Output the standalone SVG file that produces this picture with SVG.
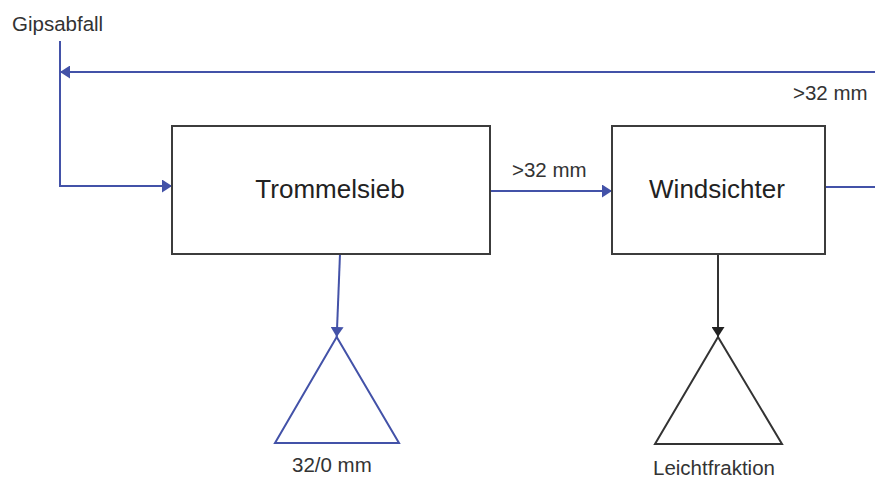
<svg xmlns="http://www.w3.org/2000/svg" width="875" height="479" viewBox="0 0 875 479">
<style>
  .box{fill:#fff;stroke:#3c3c3c;stroke-width:2}
  .blue{fill:none;stroke:#4352a8;stroke-width:2}
  .black{fill:none;stroke:#333;stroke-width:2}
  .tri-b{fill:#fff;stroke:#4352a8;stroke-width:2}
  .tri-k{fill:#fff;stroke:#333;stroke-width:2}
  .big{font-family:"Liberation Sans",Arial,sans-serif;font-size:26px;fill:#222}
  .small{font-family:"Liberation Sans",Arial,sans-serif;font-size:20.5px;fill:#333}
</style>
<defs>
  <marker id="ab" viewBox="0 0 10 13" markerUnits="userSpaceOnUse" markerWidth="10" markerHeight="13" refX="10" refY="6.5" orient="auto">
    <path d="M0,0 L10,6.5 L0,13 z" fill="#4352a8"/>
  </marker>
  <marker id="ak" viewBox="0 0 10 13" markerUnits="userSpaceOnUse" markerWidth="10" markerHeight="13" refX="10" refY="6.5" orient="auto">
    <path d="M0,0 L10,6.5 L0,13 z" fill="#222"/>
  </marker>
</defs>
<g id="connectors">
  <path class="blue" d="M60,41 V186 H172" marker-end="url(#ab)"/>
  <path class="blue" d="M875,72 H60" marker-end="url(#ab)"/>
  <path class="blue" d="M490,191 H612" marker-end="url(#ab)"/>
  <path class="blue" d="M825,187 H875"/>
  <path class="blue" d="M340,254 L336.7,337" marker-end="url(#ab)"/>
  <path class="black" d="M718,254 V337" marker-end="url(#ak)"/>
</g>
<g id="trommelsieb">
  <rect class="box" x="172" y="126" width="318" height="128"/>
  <text class="big" x="330" y="198" text-anchor="middle">Trommelsieb</text>
</g>
<g id="windsichter">
  <rect class="box" x="612" y="126" width="213" height="128"/>
  <text class="big" x="717" y="198" text-anchor="middle">Windsichter</text>
</g>
<g id="product-32-0">
  <polygon class="tri-b" points="336.7,337 275,443 399,443"/>
  <text class="small" x="292" y="472">32/0 mm</text>
</g>
<g id="leichtfraktion">
  <polygon class="tri-k" points="718,337 655,444 782,444"/>
  <text class="small" x="653" y="475">Leichtfraktion</text>
</g>
<g id="labels">
  <text class="small" x="12" y="31">Gipsabfall</text>
  <text class="small" x="512" y="177">&gt;32 mm</text>
  <text class="small" x="793" y="100">&gt;32 mm</text>
</g>
</svg>
